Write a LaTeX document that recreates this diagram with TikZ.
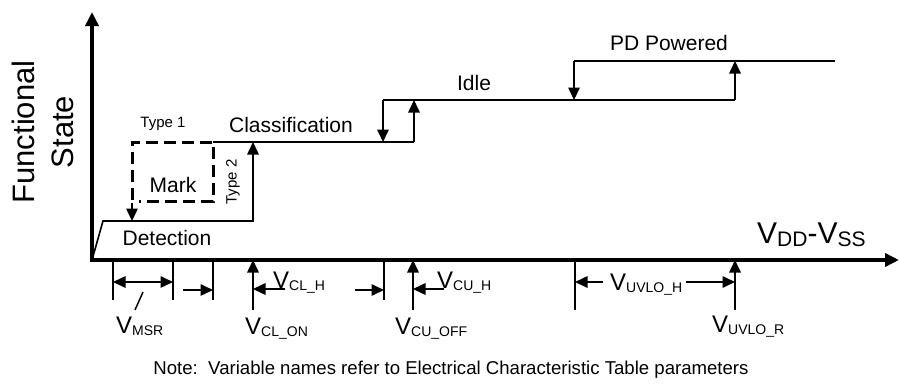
\documentclass[tikz,border=0pt]{standalone}
\usepackage{fontspec}
\setmainfont{Liberation Sans}
\usetikzlibrary{arrows.meta}
\newcommand{\vlab}[1]{{\fontsize{24}{24}\selectfont V}\raisebox{-2pt}{\fontsize{14}{14}\selectfont #1}}
\begin{document}
\begin{tikzpicture}[x=1pt,y=-1pt,
  axis/.style={line width=3.5pt,-{Triangle[length=14pt,width=13pt]}},
  stateline/.style={line width=1.6pt},
  sarrow/.style={line width=1.6pt,-{Triangle[length=12.5pt,width=11.5pt]}},
  dimarrow/.style={line width=1.6pt,-{Triangle[length=12.5pt,width=11.5pt]}},
  dimboth/.style={line width=1.6pt,{Triangle[length=12.5pt,width=11.5pt]}-{Triangle[length=12.5pt,width=11.5pt]}},
  ticker/.style={line width=1.8pt},
  lbl/.style={inner sep=0pt,font=\fontsize{21}{21}\selectfont},
  smalllbl/.style={inner sep=0pt,font=\fontsize{15}{15}\selectfont},
  vl/.style={inner sep=0pt,anchor=base west},
  dashbox/.style={line width=3pt,dash pattern=on 12pt off 6pt}]
\useasboundingbox (0,0) rectangle (901,383);
% axes
\coordinate (O) at (92,260);
\coordinate (ybot) at (92,261.75);
\coordinate (ytop) at (92,12);
\coordinate (xbeg) at (90.25,260);
\coordinate (xend) at (899,260);
\draw[axis] (ybot) -- (ytop);
\draw[axis] (xbeg) -- (xend);
% state coordinates
\coordinate (d0) at (103,221);
\coordinate (d1) at (253,221);
\coordinate (c0) at (213,142);
\coordinate (c1) at (253,142);
\coordinate (c2) at (383,142);
\coordinate (c3) at (414,142);
\coordinate (i0) at (383,100);
\coordinate (i1) at (414,100);
\coordinate (i2) at (574,100);
\coordinate (i3) at (735,100);
\coordinate (p0) at (574,61);
\coordinate (p1) at (735,61);
\coordinate (p2) at (835,61);
% detection -> classification (type 2)
\draw[sarrow] (O) -- (d0) -- (d1) -- (c1);
% classification line
\draw[stateline] (c0) -- (c3);
% mark dashed box (type 1)
\coordinate (m0) at (132,200);
\coordinate (m1) at (132,142);
\coordinate (m2) at (213,201);
\coordinate (m3) at (139,201);
\draw[dashbox] (m0) -- (m1) -- (c0) -- (m2) -- (m3);
\coordinate (ma) at (132,203);
\coordinate (mb) at (132,221);
\draw[sarrow] (ma) -- (mb);
% classification <-> idle
\draw[sarrow] (i0) -- (c2);
\draw[sarrow] (c3) -- (i1);
\draw[stateline] (i0) -- (i3);
% idle <-> PD powered
\draw[sarrow] (p0) -- (i2);
\draw[sarrow] (i3) -- (p1);
\draw[stateline] (p0) -- (p2);
% state labels
\node[smalllbl] (type1) at (163,124) {Type 1};
\node[lbl] (classif) at (291,125) {Classification};
\node[lbl] (mark) at (173,185) {Mark};
\node[smalllbl,rotate=90] (type2) at (233,182) {Type 2};
\node[lbl] (detect) at (167,238) {Detection};
\node[lbl] (idle) at (474,83) {Idle};
\node[lbl] (pdp) at (669,43) {PD Powered};
\node[inner sep=0pt,anchor=base west] (vdd) at (757,243)
  {\fontsize{30}{30}\selectfont V\raisebox{-3pt}{\fontsize{21}{21}\selectfont DD}-V\raisebox{-3pt}{\fontsize{21}{21}\selectfont SS}};
\node[inner sep=0pt,rotate=90,align=center,font=\fontsize{31}{39}\selectfont] (fstate) at (43,132) {Functional\\State};
% ticks under the axis
\coordinate (t1a) at (113,260); \coordinate (t1b) at (113,300);
\coordinate (t2a) at (173,260); \coordinate (t2b) at (173,300);
\coordinate (t3a) at (213,260); \coordinate (t3b) at (213,300);
\coordinate (t4a) at (384,260); \coordinate (t4b) at (384,300);
\coordinate (t5a) at (575,260); \coordinate (t5b) at (575,310);
\draw[ticker] (t1a) -- (t1b);
\draw[ticker] (t2a) -- (t2b);
\draw[ticker] (t3a) -- (t3b);
\draw[ticker] (t4a) -- (t4b);
\draw[ticker] (t5a) -- (t5b);
% V_MSR
\coordinate (ms0) at (113,282); \coordinate (ms1) at (173,282);
\draw[dimboth] (ms0) -- (ms1);
\coordinate (ld0) at (143,292); \coordinate (ld1) at (135,310);
\draw[line width=1.5pt] (ld0) -- (ld1);
\node[vl] (vmsr) at (116,333) {\vlab{MSR}};
% V_CL
\coordinate (a1) at (183,290); \coordinate (a1e) at (213,290);
\draw[dimarrow] (a1) -- (a1e);
\coordinate (u1) at (253,310); \coordinate (u1e) at (253,260);
\draw[sarrow] (u1) -- (u1e);
\coordinate (a2) at (285,289); \coordinate (a2e) at (253,289);
\draw[dimarrow] (a2) -- (a2e);
\node[vl] (vclh) at (273,288) {\vlab{CL\_H}};
\node[vl] (vclon) at (245,334) {\vlab{CL\_ON}};
% V_CU
\coordinate (a3) at (355,290); \coordinate (a3e) at (384,290);
\draw[dimarrow] (a3) -- (a3e);
\coordinate (u2) at (413,310); \coordinate (u2e) at (413,260);
\draw[sarrow] (u2) -- (u2e);
\coordinate (a4) at (444,289); \coordinate (a4e) at (413,289);
\draw[dimarrow] (a4) -- (a4e);
\node[vl] (vcuh) at (437,288) {\vlab{CU\_H}};
\node[vl] (vcuoff) at (395,334) {\vlab{CU\_OFF}};
% V_UVLO
\coordinate (a5) at (603,282); \coordinate (a5e) at (575,282);
\draw[dimarrow] (a5) -- (a5e);
\coordinate (a6) at (686,282); \coordinate (a6e) at (735,282);
\draw[dimarrow] (a6) -- (a6e);
\coordinate (u3) at (735,310); \coordinate (u3e) at (735,260);
\draw[sarrow] (u3) -- (u3e);
\node[vl] (vuvloh) at (610,290) {\vlab{UVLO\_H}};
\node[vl] (vuvlor) at (712,332) {\vlab{UVLO\_R}};
% note
\node[inner sep=0pt,font=\fontsize{18.6}{18.6}\selectfont] (note) at (451,370) {Note:\ \ Variable names refer to Electrical Characteristic Table parameters};
\end{tikzpicture}
\end{document}
